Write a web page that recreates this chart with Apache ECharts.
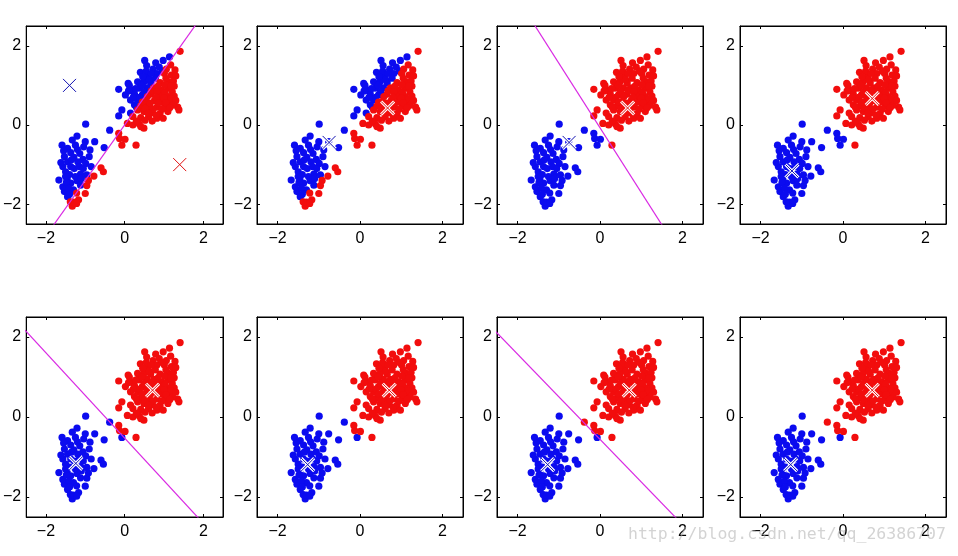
<!DOCTYPE html>
<html>
<head>
<meta charset="utf-8">
<script src="https://cdn.jsdelivr.net/npm/echarts@6/dist/echarts.min.js"></script>
<style>
html, body { margin: 0; padding: 0; background: #fff; }
#main { width: 958px; height: 556px; }
</style>
</head>
<body>
<div id="main"></div>
<script>
// standardised eruption / waiting points
var points = [
  [1.41,1.86],[0.51,1.63],[0.79,1.57],[0.98,1.63],[1.14,1.72],[0.56,1.50],[0.72,1.41],[1.06,1.41],[1.28,1.39],
  [0.40,1.33],[0.82,1.30],[1.01,1.30],[1.19,1.26],[1.30,1.24],[0.59,1.22],[0.09,1.05],[0.33,1.09],[0.49,1.09],
  [0.66,1.07],[0.90,1.07],[1.12,1.09],[1.24,1.11],[1.26,0.98],[-0.15,0.90],[0.17,0.88],[0.37,0.93],[0.57,0.94],
  [0.74,0.94],[0.94,0.88],[1.10,0.93],[1.21,0.84],[0.02,0.76],[0.25,0.78],[0.45,0.76],[0.66,0.78],[0.90,0.73],
  [1.10,0.72],[1.26,0.73],[0.15,0.63],[0.33,0.63],[0.53,0.59],[0.76,0.62],[0.94,0.59],[1.14,0.59],[0.25,0.51],
  [0.41,0.48],[0.61,0.46],[0.82,0.45],[1.02,0.48],[1.35,0.45],[1.38,0.38],[-0.07,0.38],[0.33,0.38],[0.49,0.34],
  [0.70,0.31],[0.90,0.29],[1.10,0.34],[-0.15,0.23],[0.21,0.21],[0.41,0.19],[0.61,0.21],[0.82,0.17],[0.98,0.17],
  [0.07,0.04],[0.21,0.00],[0.37,0.03],[0.49,-0.08],[0.41,-0.04],[0.29,-0.51],
  [0.55,1.36],[0.88,1.46],[1.17,1.52],[0.62,1.15],[0.78,1.18],[1.05,1.18],[0.44,1.00],[0.85,0.98],[1.02,1.02],
  [1.18,0.98],[0.28,0.92],[0.50,0.84],[0.68,0.86],[0.82,0.84],[1.03,0.82],[0.10,0.86],[0.38,0.70],[0.58,0.72],
  [0.80,0.70],[1.00,0.68],[1.18,0.66],[0.22,0.70],[0.45,0.58],[0.65,0.55],[0.86,0.56],[1.05,0.56],[1.22,0.50],
  [0.30,0.45],[0.52,0.42],[0.72,0.40],[0.95,0.40],[1.15,0.44],[0.60,0.30],[0.80,0.25],[0.52,0.12],[0.70,0.10],
  [0.30,0.10],[0.96,1.36],[0.68,1.30],[0.46,1.22],[0.12,1.00],[1.30,0.62],[0.15,0.30],
  [-0.99,0.02],[-0.38,-0.13],[-0.15,-0.21],[-0.13,-0.34],[0.01,-0.36],[-0.07,-0.51],[-1.21,-0.28],[-0.76,-0.42],
  [-0.52,-0.57],[-1.59,-0.51],[-1.45,-0.59],[-1.25,-0.51],[-1.04,-0.55],[-0.88,-0.63],[-1.37,-0.70],[-1.14,-0.72],
  [-1.53,-0.80],[-1.29,-0.82],[-1.06,-0.87],[-1.45,-0.93],[-1.19,-0.93],[-0.99,-0.97],[-0.60,-1.08],[-0.54,-1.18],
  [-1.57,-1.05],[-1.37,-1.05],[-1.50,-1.18],[-1.12,-1.24],[-0.96,-1.26],[-1.67,-1.39],[-1.46,-1.35],[-1.21,-1.41],
  [-0.78,-1.29],[-1.37,-1.47],[-1.12,-1.52],[-0.96,-1.53],[-1.53,-1.68],[-1.30,-1.64],[-1.00,-1.73],[-1.45,-1.81],
  [-1.17,-1.89],[-1.33,-2.05],[-1.38,-1.94],[-1.57,-1.56],
  [-1.40,-1.25],[-1.28,-1.10],[-1.15,-1.05],[-1.35,-0.88],[-1.20,-0.62],[-1.48,-1.45],[-1.25,-1.30],[-1.10,-1.35],
  [-1.42,-1.60],[-1.22,-1.72],[-1.40,-1.75],[-1.05,-1.10],[-0.90,-0.80],[-1.62,-0.95],[-1.30,-1.95],[-1.22,-1.98],
  [-1.50,-1.30],[-0.85,-1.05],[-1.55,-0.65],[-1.00,-0.42],[-1.33,-0.38],[-0.92,-1.40]
];

// cluster centres, [blue, red], for each step
var centres0 = [[-1.4, 1.0], [1.4, -1.0]];
var centres1 = [[-0.75, -0.44], [0.67, 0.43]];
var centres2 = [[-1.24, -1.16], [0.71, 0.67]];
var centres3 = [[-1.27, -1.19], [0.71, 0.67]];

// per panel: centres that colour the points, crosses drawn, boundary shown
var colourBy = [centres0, centres0, centres1, centres1, centres2, centres2, centres3, centres3];
var crossAt = [centres0, centres1, centres1, centres2, centres2, centres3, centres3, centres3];
var showLine = [true, false, true, false, true, false, true, false];

var ticks = [-2, 0, 2];
var range = [-2.5, 2.5];

var BLUE = '#0b0bef', RED = '#f20d0d';
var gridLeft = [17, 257, 497, 740];
var gridTop = [26, 317];

function nearest(p, c) {
  var d0 = (p[0]-c[0][0])*(p[0]-c[0][0]) + (p[1]-c[0][1])*(p[1]-c[0][1]);
  var d1 = (p[0]-c[1][0])*(p[0]-c[1][0]) + (p[1]-c[1][1])*(p[1]-c[1][1]);
  return d0 <= d1 ? 0 : 1;
}

// perpendicular bisector of the two centres, long enough to be clipped by the grid
function boundary(c) {
  var mx = (c[0][0]+c[1][0])/2, my = (c[0][1]+c[1][1])/2;
  var dx = c[1][0]-c[0][0], dy = c[1][1]-c[0][1];
  return [-4, 4].map(function (x) { return [x, my - dx/dy*(x - mx)]; });
}

function fmt(v) { return v < 0 ? '\u2212' + (-v) : '' + v; }

var grids = [], xAxes = [], yAxes = [], series = [];
for (var i = 0; i < 8; i++) {
  var row = Math.floor(i / 4), col = i % 4;
  grids.push({left: gridLeft[col], top: gridTop[row], width: 206, height: row ? 200 : 198,
    show: true, borderColor: '#000', borderWidth: 1, backgroundColor: '#fff'});
  var line = {show: true, onZero: false, lineStyle: {color: '#000', width: 1}};
  var tick = {inside: true, length: 3, customValues: ticks, lineStyle: {color: '#000'}};
  var label = {customValues: ticks, formatter: fmt, color: '#000', fontSize: 16,
    fontFamily: 'Liberation Sans, Arial, sans-serif'};
  xAxes.push({gridIndex: i, type: 'value', position: 'bottom', min: range[0], max: range[1],
    axisLine: line, splitLine: {show: false}, axisTick: tick,
    axisLabel: Object.assign({margin: 7}, label)});
  xAxes.push({gridIndex: i, type: 'value', position: 'top', min: range[0], max: range[1],
    axisLine: line, splitLine: {show: false}, axisLabel: {show: false}, axisTick: tick});
  yAxes.push({gridIndex: i, type: 'value', position: 'left', min: range[0], max: range[1],
    axisLine: line, splitLine: {show: false}, axisTick: tick,
    axisLabel: Object.assign({margin: 5}, label)});
  yAxes.push({gridIndex: i, type: 'value', position: 'right', min: range[0], max: range[1],
    axisLine: line, splitLine: {show: false}, axisLabel: {show: false}, axisTick: tick});

  var blue = [], red = [];
  points.forEach(function (p) { (nearest(p, colourBy[i]) ? red : blue).push(p); });
  [[blue, BLUE], [red, RED]].forEach(function (s) {
    series.push({type: 'scatter', xAxisIndex: 2*i, yAxisIndex: 2*i, data: s[0], symbolSize: 7.2,
      itemStyle: {color: s[1], opacity: 1}, silent: true, z: 2});
  });

  if (showLine[i]) {
    series.push({type: 'line', xAxisIndex: 2*i, yAxisIndex: 2*i, data: boundary(colourBy[i]),
      symbol: 'none', clip: true, lineStyle: {color: '#d92ae3', width: 1.2}, silent: true, z: 3});
  }

  series.push({type: 'custom', xAxisIndex: 2*i, yAxisIndex: 2*i, silent: true, z: 4,
    data: crossAt[i].map(function (c, k) { return [c[0], c[1], k]; }),
    renderItem: function (params, api) {
      var p = api.coord([api.value(0), api.value(1)]);
      var s = 6.5, col = api.value(2) ? '#e01010' : '#1010b0';
      var kids = [];
      [['#fff', 3], [col, 1]].forEach(function (st) {
        kids.push({type: 'line', shape: {x1: p[0]-s, y1: p[1]-s, x2: p[0]+s, y2: p[1]+s},
          style: {stroke: st[0], lineWidth: st[1]}});
        kids.push({type: 'line', shape: {x1: p[0]-s, y1: p[1]+s, x2: p[0]+s, y2: p[1]-s},
          style: {stroke: st[0], lineWidth: st[1]}});
      });
      return {type: 'group', children: kids};
    }});
}

var chart = echarts.init(document.getElementById('main'), null, {renderer: 'canvas'});
chart.setOption({
  animation: false,
  backgroundColor: '#fff',
  grid: grids,
  xAxis: xAxes,
  yAxis: yAxes,
  series: series,
  graphic: [{type: 'text', left: 628, top: 526, z: 100, silent: true,
    style: {text: 'http://blog.csdn.net/qq_26386707', fill: 'rgba(175,175,175,0.55)',
      font: '16.5px "DejaVu Sans Mono", monospace'}}]
});
</script>
</body>
</html>
